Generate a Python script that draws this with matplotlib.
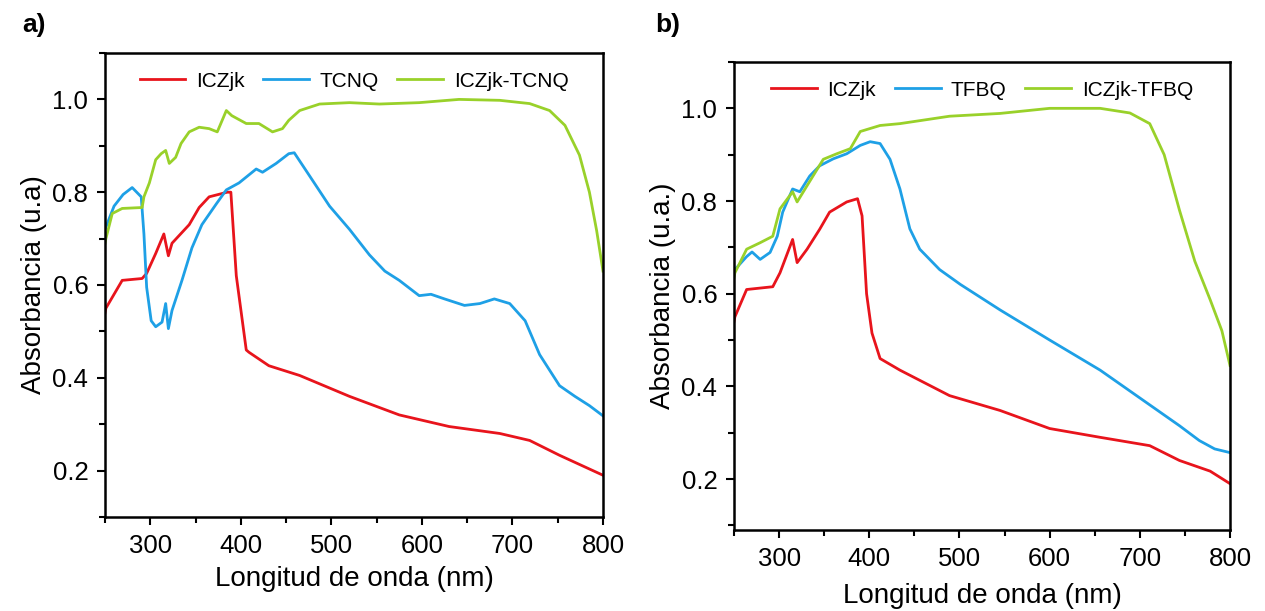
import matplotlib

matplotlib.use("Agg")
import matplotlib.pyplot as plt
from matplotlib.ticker import MultipleLocator

plt.rcParams["font.family"] = ["Liberation Sans", "DejaVu Sans"]

# ---- panel a) : ICZjk / TCNQ / ICZjk-TCNQ ----
a_red_x = [250, 251, 269, 291, 296, 306, 315, 320, 324, 343, 354, 365, 379, 385, 389,
           395, 406, 409, 431, 465, 520, 575, 630, 686, 719, 752, 800]
a_red_y = [0.54, 0.55, 0.61, 0.614, 0.625, 0.668, 0.71, 0.663, 0.69, 0.73, 0.767, 0.79,
           0.797, 0.80, 0.80, 0.62, 0.46, 0.455, 0.426, 0.405, 0.36, 0.32, 0.295, 0.28,
           0.265, 0.233, 0.19]

a_blue_x = [250, 260, 270, 280, 290, 293, 296, 301, 306, 313, 317, 320, 324, 335, 346,
            357, 373, 384, 398, 417, 424, 439, 453, 459, 476, 498, 520, 542, 559, 575,
            597, 610, 625, 647, 664, 680, 697, 714, 730, 752, 769, 785, 800]
a_blue_y = [0.72, 0.77, 0.795, 0.81, 0.79, 0.71, 0.595, 0.523, 0.51, 0.52, 0.56, 0.506,
            0.545, 0.61, 0.68, 0.73, 0.775, 0.805, 0.82, 0.85, 0.843, 0.862, 0.883, 0.885,
            0.835, 0.77, 0.72, 0.665, 0.63, 0.61, 0.577, 0.58, 0.57, 0.556, 0.56, 0.57,
            0.56, 0.523, 0.45, 0.383, 0.36, 0.34, 0.318]

a_green_x = [250, 251, 258, 269, 291, 293, 299, 306, 312, 317, 321, 328, 334, 343, 354,
             365, 374, 384, 390, 406, 420, 435, 446, 453, 465, 487, 520, 553, 597, 641,
             686, 719, 741, 758, 774, 785, 793, 800]
a_green_y = [0.69, 0.70, 0.754, 0.765, 0.767, 0.79, 0.82, 0.87, 0.883, 0.89, 0.862, 0.875,
             0.905, 0.93, 0.94, 0.937, 0.93, 0.976, 0.965, 0.948, 0.948, 0.93, 0.937, 0.955,
             0.976, 0.99, 0.993, 0.99, 0.993, 1.0, 0.998, 0.991, 0.976, 0.944, 0.88, 0.80,
             0.717, 0.63]

# ---- panel b) : ICZjk / TFBQ / ICZjk-TFBQ ----
b_red_x = [250, 251, 264, 293, 301, 315, 320, 331, 345, 356, 375, 387, 392, 397, 403,
           412, 434, 489, 545, 600, 656, 711, 744, 778, 800]
b_red_y = [0.54, 0.55, 0.609, 0.615, 0.645, 0.717, 0.667, 0.696, 0.739, 0.776, 0.798,
           0.805, 0.768, 0.60, 0.515, 0.46, 0.435, 0.38, 0.348, 0.309, 0.29, 0.272, 0.24,
           0.217, 0.19]

b_blue_x = [250, 251, 264, 270, 279, 290, 298, 304, 315, 323, 334, 345, 360, 375, 390,
            401, 412, 423, 434, 445, 456, 478, 501, 545, 600, 656, 711, 744, 766, 783, 800]
b_blue_y = [0.64, 0.652, 0.68, 0.69, 0.674, 0.689, 0.724, 0.776, 0.826, 0.82, 0.854,
            0.876, 0.891, 0.902, 0.92, 0.928, 0.924, 0.89, 0.826, 0.74, 0.696, 0.652,
            0.62, 0.565, 0.50, 0.435, 0.36, 0.315, 0.283, 0.265, 0.257]

b_green_x = [250, 251, 264, 279, 293, 301, 315, 320, 331, 349, 364, 379, 390, 412, 434,
             489, 545, 600, 656, 689, 711, 727, 744, 761, 778, 791, 800]
b_green_y = [0.635, 0.645, 0.696, 0.71, 0.724, 0.783, 0.82, 0.798, 0.833, 0.89, 0.902,
             0.913, 0.95, 0.963, 0.967, 0.983, 0.989, 1.0, 1.0, 0.99, 0.967, 0.90, 0.78,
             0.67, 0.587, 0.52, 0.445]

RED = "#e8141c"
BLUE = "#1ea0e6"
GREEN = "#99d12a"


def style_axes(ax, ylabel, ylim, xpad):
    ax.set_xlim(250, 800)
    ax.set_ylim(*ylim)
    ax.xaxis.set_major_locator(MultipleLocator(100))
    ax.xaxis.set_minor_locator(MultipleLocator(50))
    ax.yaxis.set_major_locator(MultipleLocator(0.2))
    ax.yaxis.set_minor_locator(MultipleLocator(0.1))
    ax.tick_params(which="both", direction="out", top=False, right=False,
                   labelsize=18.5, width=1.5)
    ax.tick_params(which="major", length=6, pad=6)
    ax.tick_params(which="minor", length=4)
    for s in ax.spines.values():
        s.set_linewidth(1.8)
    ax.set_xlabel("Longitud de onda (nm)", fontsize=20, labelpad=xpad)
    ax.set_ylabel(ylabel, fontsize=20, labelpad=4)


fig = plt.figure(figsize=(12.65, 6.11), dpi=100)
ax1 = fig.add_axes([105 / 1265, 94 / 611, 498 / 1265, 464 / 611])
ax2 = fig.add_axes([734 / 1265, 81 / 611, 496 / 1265, 468 / 611])

ax1.plot(a_red_x, a_red_y, color=RED, lw=2, label="ICZjk")
ax1.plot(a_blue_x, a_blue_y, color=BLUE, lw=2, label="TCNQ")
ax1.plot(a_green_x, a_green_y, color=GREEN, lw=2, label="ICZjk-TCNQ")
style_axes(ax1, "Absorbancia (u.a)", (0.1, 1.1), 6)

ax2.plot(b_red_x, b_red_y, color=RED, lw=2, label="ICZjk")
ax2.plot(b_blue_x, b_blue_y, color=BLUE, lw=2, label="TFBQ")
ax2.plot(b_green_x, b_green_y, color=GREEN, lw=2, label="ICZjk-TFBQ")
style_axes(ax2, "Absorbancia (u.a.)", (0.09, 1.1), 9)

for ax in (ax1, ax2):
    ax.legend(ncol=3, loc="upper center", bbox_to_anchor=(0.5, 1.0), frameon=False,
              fontsize=15, handlelength=2.2, columnspacing=0.9, handletextpad=0.5)

fig.text(22 / 1265, 1 - 25 / 611, "a)", fontsize=19, fontweight="bold", va="center")
fig.text(655 / 1265, 1 - 25 / 611, "b)", fontsize=19, fontweight="bold", va="center")

fig.savefig("out.png", dpi=100)
